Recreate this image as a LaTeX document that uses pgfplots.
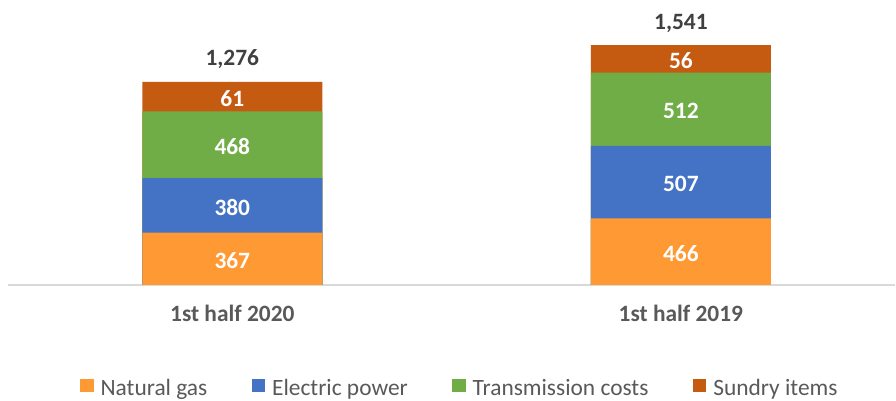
\documentclass[border=0pt]{standalone}
\usepackage{pgfplots}
\pgfplotsset{compat=1.18}
\usepackage{pgfplotstable}
\usepackage{fontspec}
\setmainfont{Carlito}
\definecolor{cgas}{HTML}{FF9933}
\definecolor{cpow}{HTML}{4472C4}
\definecolor{ctra}{HTML}{70AD47}
\definecolor{csun}{HTML}{C55A11}
\definecolor{txtg}{HTML}{595959}
\definecolor{totg}{HTML}{404040}
\definecolor{axg}{HTML}{D9D9D9}
% sundryh = drawn height of the "Sundry items" segment as it appears in the reference; sundry = printed value
\pgfplotstableread{
x gas power trans sundryh sundry total
0 367 380 468 205 61 1276
1 466 507 512 193 56 1541
}\data
\begin{document}
\fontsize{11.7pt}{14pt}\selectfont
\begin{tikzpicture}
\begin{axis}[
  scale only axis, clip=false,
  x=224.3pt, y=0.0715pt,
  xmin=-0.5, xmax=1.477, ymin=0, ymax=1900,
  axis y line=none, axis x line*=bottom,
  x axis line style={draw=axg, line width=1pt, -},
  xtick=data, xticklabels={1st half 2020, 1st half 2019},
  major tick length=0pt,
  xticklabel style={font=\bfseries, text=txtg, anchor=base, inner sep=0pt, yshift=-18.35pt},
  /pgf/number format/assume math mode=true,
  /pgf/number format/1000 sep={,},
  segment/.style={ybar, bar width=90pt, bar shift=0pt, draw=none, forget plot},
  seglabel/.style={draw=none, mark=none, forget plot, nodes near coords, point meta=explicit,
     nodes near coords style={font=\bfseries, text=white, anchor=center, inner sep=0pt, yshift=-1pt}},
  legend columns=4,
  legend style={draw=none, fill=none, at={(0.5085,-0.383)}, anchor=center, text=txtg,
    nodes={inner sep=0pt},
    /tikz/every odd column/.append style={column sep=3.5pt},
    /tikz/every even column/.append style={column sep=22.3pt}},
  legend image code/.code={\fill[#1] (0pt,-1.5pt) rectangle (6.6pt,5.1pt);},
]
\addlegendimage{fill=cgas, draw=none}
\addlegendentry{Natural gas}
\addlegendimage{fill=cpow, draw=none}
\addlegendentry{Electric power}
\addlegendimage{fill=ctra, draw=none}
\addlegendentry{Transmission costs}
\addlegendimage{fill=csun, draw=none}
\addlegendentry{Sundry items}
% stacked segments, drawn from the top of the stack downwards
\addplot[segment, fill=csun] table[x=x, y expr=\thisrow{gas}+\thisrow{power}+\thisrow{trans}+\thisrow{sundryh}] {\data};
\addplot[segment, fill=ctra] table[x=x, y expr=\thisrow{gas}+\thisrow{power}+\thisrow{trans}] {\data};
\addplot[segment, fill=cpow] table[x=x, y expr=\thisrow{gas}+\thisrow{power}] {\data};
\addplot[segment, fill=cgas] table[x=x, y=gas] {\data};
% value labels in the middle of each segment
\addplot[seglabel] table[x=x, y expr=\thisrow{gas}/2, meta=gas] {\data};
\addplot[seglabel] table[x=x, y expr=\thisrow{gas}+\thisrow{power}/2, meta=power] {\data};
\addplot[seglabel] table[x=x, y expr=\thisrow{gas}+\thisrow{power}+\thisrow{trans}/2, meta=trans] {\data};
\addplot[seglabel] table[x=x, y expr=\thisrow{gas}+\thisrow{power}+\thisrow{trans}+\thisrow{sundryh}/2, meta=sundry] {\data};
% totals above the bars
\addplot[draw=none, mark=none, forget plot, nodes near coords, point meta=explicit,
  nodes near coords style={font=\bfseries, text=totg, anchor=base, inner sep=0pt, yshift=8pt}]
  table[x=x, y expr=\thisrow{gas}+\thisrow{power}+\thisrow{trans}+\thisrow{sundryh}, meta=total] {\data};
\end{axis}
\pgfresetboundingbox
\path[use as bounding box] ([xshift=-4pt,yshift=-58pt]current axis.south west) rectangle ++(448pt,200.5pt);
\end{tikzpicture}
\end{document}
